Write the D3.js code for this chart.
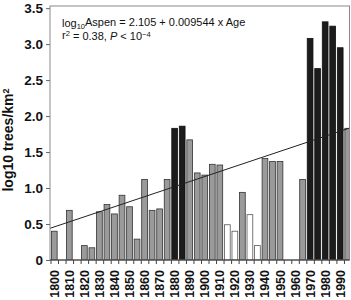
<!DOCTYPE html>
<html><head><meta charset="utf-8">
<script src="https://cdn.jsdelivr.net/npm/d3@7/dist/d3.min.js"></script>
<style>body{margin:0;background:#fff}svg{display:block}</style>
</head><body>
<svg id="c" width="351" height="300"></svg>
<script>
const years = d3.range(1800, 2000, 5);
const values = [0.40,0,0.69,0,0.20,0.17,0.67,0.77,0.64,0.90,
                0.74,0.29,1.12,0.69,0.71,1.12,1.83,1.86,1.67,1.21,
                1.18,1.33,1.32,0.49,0.40,0.94,0.63,0.20,1.41,1.37,
                1.37,0,0,1.12,3.08,2.66,3.31,3.25,2.95,1.83];
const kinds = ["g","g","g","g","g","g","g","g","g","g",
               "g","g","g","g","g","g","b","b","g","g",
               "g","g","g","w","w","g","w","w","g","g",
               "g","g","g","g","b","b","b","b","b","g"];
const yTicks = [0,0.5,1.0,1.5,2.0,2.5,3.0,3.5];
const yTickLabels = ["0","0.5","1.0","1.5","2.0","2.5","3.0","3.5"];
const xLabelYears = d3.range(1800, 2000, 10);
const regLine = [[1796.8,0.44],[1997.5,1.84]];

const svg = d3.select("#c");
const L = 50, R = 349.5, T = 6, B = 260;
const x = d3.scaleBand().domain(years).range([51, 351]).paddingInner(0.13).paddingOuter(0).align(0);
const xLin = d3.scaleLinear().domain([1797.5, 1997.5]).range([51, 351]);
const y = d3.scaleLinear().domain([0, 3.53]).range([B, T]);

svg.append("clipPath").attr("id","cp").append("rect").attr("x",L).attr("y",T).attr("width",R-L).attr("height",B-T);

const fills = {g:"#9a9a9a", b:"#1c1c1c", w:"#ffffff"};
const strokes = {g:"#333", b:"#111", w:"#555"};
const data = years.map((yr,i)=>({yr, v:values[i], k:kinds[i]})).filter(d=>d.v>0);
svg.append("g").attr("clip-path","url(#cp)").selectAll("rect").data(data).join("rect")
  .attr("x", d=>x(d.yr)+0.4).attr("width", x.bandwidth()-0.8)
  .attr("y", d=>y(d.v)).attr("height", d=>B-y(d.v))
  .attr("fill", d=>fills[d.k]).attr("stroke", d=>strokes[d.k]).attr("stroke-width",0.8);

svg.append("path").attr("clip-path","url(#cp)")
  .attr("d", d3.line().x(d=>xLin(d[0])).y(d=>y(d[1]))(regLine))
  .attr("stroke","#222").attr("stroke-width",1).attr("fill","none");

// frame
svg.append("rect").attr("x",L).attr("y",T).attr("width",R-L).attr("height",B-T)
  .attr("fill","none").attr("stroke","#8a8a8a").attr("stroke-width",1);
svg.append("line").attr("x1",L).attr("x2",R).attr("y1",B).attr("y2",B).attr("stroke","#333");

// y axis
const ya = svg.append("g").attr("transform",`translate(${L},0)`)
  .call(d3.axisLeft(y).tickValues(yTicks).tickFormat((d,i)=>yTickLabels[i]).tickSize(4).tickPadding(3));
ya.select(".domain").remove();
ya.selectAll("line").attr("stroke","#666");
ya.selectAll("text").attr("font-family","Liberation Sans, Arial, sans-serif").attr("font-weight","bold").attr("font-size","13.5px").attr("fill","#111");

// x axis ticks
const xa = svg.append("g");
xa.selectAll("line").data(years).join("line")
  .attr("x1", d=>x(d)).attr("x2", d=>x(d)).attr("y1", B).attr("y2", B+4).attr("stroke","#444");
xa.selectAll("text").data(xLabelYears).join("text")
  .attr("transform", d=>`translate(${x(d)+x.bandwidth()/2},270) rotate(-90)`)
  .attr("text-anchor","end").attr("dy","0.36em")
  .attr("font-family","Liberation Sans, Arial, sans-serif").attr("font-weight","bold").attr("font-size","12.5px").attr("fill","#111")
  .text(d=>d);

// y title
const yt = svg.append("text").attr("transform","translate(13,140) rotate(-90)")
  .attr("text-anchor","middle").attr("font-family","Liberation Sans, Arial, sans-serif")
  .attr("font-weight","bold").attr("font-size","14px").attr("fill","#111");
yt.append("tspan").text("log10 trees/km");
yt.append("tspan").attr("dy","-0.45em").attr("font-size","9px").text("2");

// equation
const f = "Liberation Sans, Arial, sans-serif";
const t1 = svg.append("text").attr("x",62).attr("y",27).attr("font-family",f).attr("font-size","11px").attr("fill","#111");
t1.append("tspan").text("log");
t1.append("tspan").attr("dy","0.3em").attr("font-size","7.5px").text("10");
t1.append("tspan").attr("dy","-0.3em").text("Aspen = 2.105 + 0.009544 x Age");
const t2 = svg.append("text").attr("x",62).attr("y",38.5).attr("font-family",f).attr("font-size","11px").attr("fill","#111");
t2.append("tspan").text("r");
t2.append("tspan").attr("dy","-0.4em").attr("font-size","7.5px").text("2");
t2.append("tspan").attr("dy","0.4em").text(" = 0.38, ");
t2.append("tspan").attr("font-style","italic").text("P");
t2.append("tspan").text(" < 10");
t2.append("tspan").attr("dy","-0.45em").attr("font-size","7.5px").text("−4");
</script>
</body></html>
